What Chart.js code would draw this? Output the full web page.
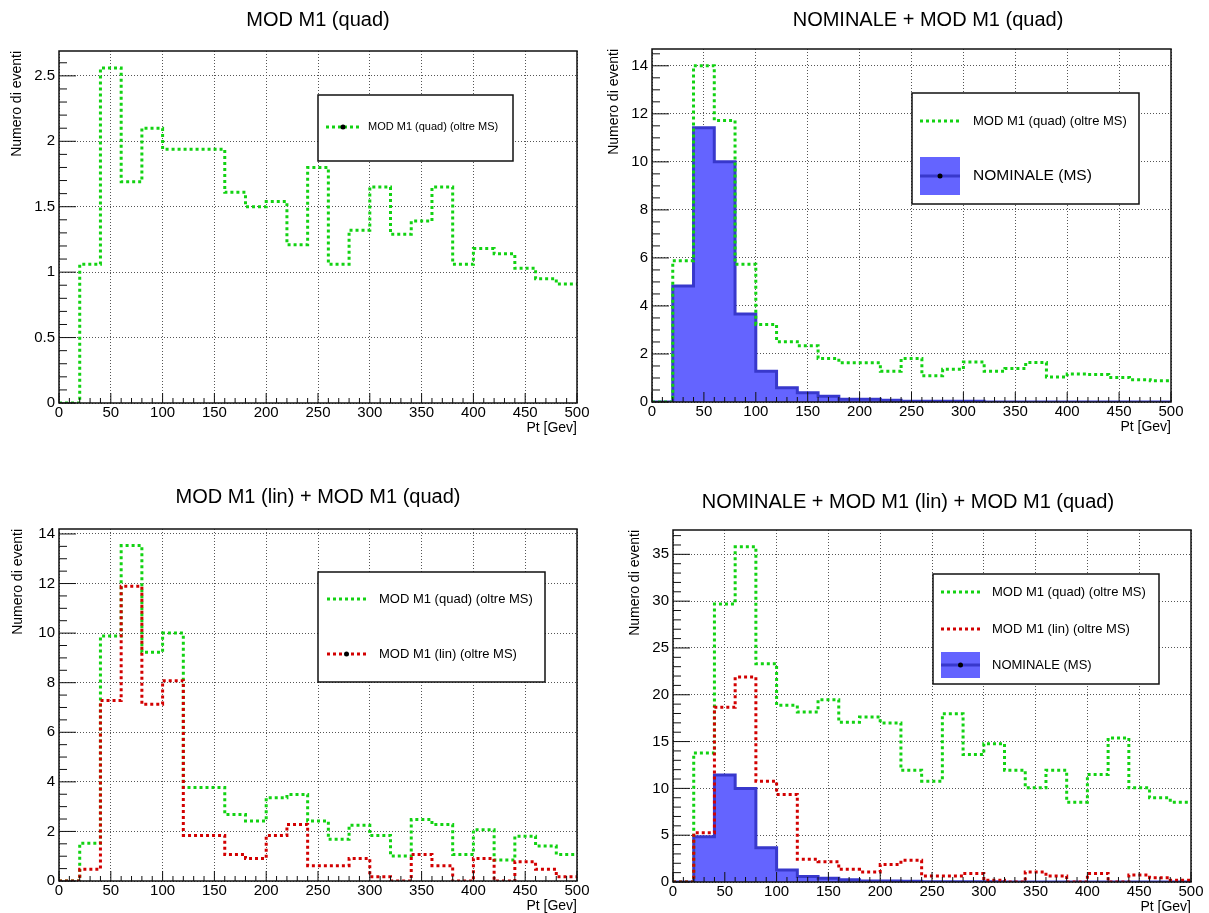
<!DOCTYPE html>
<html>
<head>
<meta charset="utf-8">
<script src="https://cdn.jsdelivr.net/npm/chart.js@4.4.1/dist/chart.umd.min.js"></script>
<style>
html, body { margin: 0; padding: 0; background: #fff; }
#wrap { position: relative; width: 1209px; height: 913px; }
#wrap canvas { position: absolute; left: 0; top: 0; }
</style>
</head>
<body>
<div id="wrap">
<canvas id="c1" width="1209" height="913"></canvas>
<canvas id="c2" width="1209" height="913"></canvas>
<canvas id="c3" width="1209" height="913"></canvas>
<canvas id="c4" width="1209" height="913"></canvas>
</div>
<script>
// bin edges (Pt, GeV) and axis ticks
const binEdges = [0, 20, 40, 60, 80, 100, 120, 140, 160, 180, 200, 220, 240, 260, 280, 300, 320, 340, 360, 380, 400, 420, 440, 460, 480, 500];
const xTicks = [0, 50, 100, 150, 200, 250, 300, 350, 400, 450, 500];
const yTicksQuad = [0, 0.5, 1, 1.5, 2, 2.5];
const yTicksMid = [0, 2, 4, 6, 8, 10, 12, 14];
const yTicksAll = [0, 5, 10, 15, 20, 25, 30, 35];

// panel 1: MOD M1 (quad)
const quadOnly = [0, 1.06, 2.56, 1.69, 2.10, 1.94, 1.94, 1.94, 1.61, 1.50, 1.54, 1.21, 1.80, 1.06, 1.32, 1.65, 1.29, 1.39, 1.65, 1.06, 1.18, 1.14, 1.03, 0.95, 0.91];
// panel 2: NOMINALE + quad
const nominale = [0, 4.83, 11.42, 10.0, 3.66, 1.28, 0.59, 0.39, 0.24, 0.11, 0.11, 0.07, 0.03, 0.03, 0.03, 0.03, 0, 0, 0, 0, 0, 0, 0, 0, 0];
const quadOverNom = [0, 5.88, 14.0, 11.72, 5.74, 3.23, 2.51, 2.34, 1.81, 1.63, 1.63, 1.28, 1.81, 1.09, 1.36, 1.67, 1.28, 1.39, 1.64, 1.04, 1.17, 1.14, 1.02, 0.93, 0.88];
// panel 3: lin + quad
const quadOverLin = [0, 1.52, 9.88, 13.53, 9.23, 10.0, 3.77, 3.77, 2.68, 2.42, 3.36, 3.49, 2.42, 1.68, 2.25, 1.84, 1.01, 2.48, 2.28, 1.07, 2.07, 0.85, 1.81, 1.41, 1.07];
const linOnly = [0, 0.47, 7.28, 11.89, 7.13, 8.08, 1.84, 1.84, 1.07, 0.91, 1.84, 2.28, 0.62, 0.62, 0.91, 0.17, 0, 1.07, 0.62, 0, 0.91, 0, 0.78, 0.47, 0.17];
// panel 4: NOMINALE + lin + quad
const quadTotal = [0, 13.79, 29.7, 35.8, 23.3, 18.87, 18.16, 19.47, 17.06, 17.63, 16.99, 11.94, 10.77, 17.98, 13.61, 14.78, 11.94, 10.06, 11.94, 8.53, 11.48, 15.39, 10.06, 8.99, 8.53];
const linOverNom = [0, 5.26, 18.66, 21.89, 10.77, 9.35, 2.42, 2.17, 1.35, 1.07, 1.88, 2.31, 0.64, 0.64, 0.92, 0.18, 0, 1.07, 0.64, 0, 0.92, 0, 0.75, 0.46, 0.18];

const GREEN = '#12d212';
const RED = '#d20000';
const BLUE_FILL = '#6464ff';
const BLUE_LINE = '#3838cc';
const FONT = "'Liberation Sans', Arial, sans-serif";

Chart.defaults.font.family = FONT;
Chart.defaults.color = '#000';

function histPoints(values) {
    const pts = values.map((v, i) => ({ x: binEdges[i], y: v }));
    pts.push({ x: binEdges[values.length], y: values[values.length - 1] });
    return pts;
}

function dottedSet(values, color, order) {
    return {
        data: histPoints(values), borderColor: color, borderWidth: 3, borderDash: [3, 3],
        stepped: 'before', pointRadius: 0, fill: false, order: order
    };
}

function filledSet(values, order) {
    return {
        data: histPoints(values), borderColor: BLUE_LINE, backgroundColor: BLUE_FILL, borderWidth: 3,
        stepped: 'before', pointRadius: 0, fill: 'origin', order: order
    };
}

function drawLegend(ctx, lg) {
    ctx.fillStyle = '#fff';
    ctx.fillRect(lg.x, lg.y, lg.w, lg.h);
    ctx.strokeStyle = '#111';
    ctx.lineWidth = 1.5;
    ctx.setLineDash([]);
    ctx.strokeRect(lg.x, lg.y, lg.w, lg.h);
    const mid = (lg.sx0 + lg.sx1) / 2;
    lg.entries.forEach(e => {
        if (e.kind === 'fill') {
            ctx.fillStyle = BLUE_FILL;
            ctx.fillRect(lg.sx0, e.y - e.bh / 2, lg.sx1 - lg.sx0, e.bh);
            ctx.strokeStyle = BLUE_LINE;
            ctx.lineWidth = 3;
            ctx.setLineDash([]);
        } else {
            ctx.strokeStyle = e.color;
            ctx.lineWidth = 3;
            ctx.setLineDash([3, 3]);
        }
        ctx.beginPath();
        ctx.moveTo(lg.sx0, e.y);
        ctx.lineTo(lg.sx1, e.y);
        ctx.stroke();
        ctx.setLineDash([]);
        if (e.dot) {
            ctx.fillStyle = '#000';
            ctx.beginPath();
            ctx.arc(mid, e.y, 2.5, 0, Math.PI * 2);
            ctx.fill();
        }
        ctx.fillStyle = '#000';
        ctx.font = e.size + 'px ' + FONT;
        ctx.textAlign = 'left';
        ctx.textBaseline = 'middle';
        ctx.fillText(e.label, lg.tx, e.y);
    });
}

function makePanel(id, p) {
    const f = p.frame;
    const padPlugin = {
        id: 'rootPad',
        afterDatasetsDraw(chart) {
            const ctx = chart.ctx, a = chart.chartArea;
            const xs = chart.scales.x, ys = chart.scales.y;
            ctx.save();
            // frame
            ctx.strokeStyle = '#111';
            ctx.lineWidth = 1.5;
            ctx.strokeRect(a.left, a.top, a.right - a.left, a.bottom - a.top);
            // inward ticks, ROOT style
            ctx.lineWidth = 1;
            ctx.beginPath();
            for (let i = 0; i <= 50; i++) {
                const px = xs.getPixelForValue(i * 10);
                ctx.moveTo(px, a.bottom);
                ctx.lineTo(px, a.bottom - (i % 5 === 0 ? 10 : 5));
            }
            const ny = Math.floor(p.yMax / p.yMinor + 1e-6);
            for (let i = 0; i <= ny; i++) {
                const py = ys.getPixelForValue(i * p.yMinor);
                ctx.moveTo(a.left, py);
                ctx.lineTo(a.left + (i % p.yDiv === 0 ? 17 : 8), py);
            }
            ctx.stroke();
            // titles
            ctx.fillStyle = '#000';
            ctx.font = '20px ' + FONT;
            ctx.textAlign = 'center';
            ctx.textBaseline = 'middle';
            ctx.fillText(p.title, p.titleX, p.titleY);
            ctx.font = '14px ' + FONT;
            ctx.textAlign = 'right';
            ctx.fillText('Pt [Gev]', a.right, a.bottom + 25);
            ctx.save();
            ctx.translate(p.yTitleX, a.top);
            ctx.rotate(-Math.PI / 2);
            ctx.textAlign = 'right';
            ctx.fillText('Numero di eventi', 0, 0);
            ctx.restore();
            drawLegend(ctx, p.legend);
            ctx.restore();
        }
    };
    new Chart(document.getElementById(id), {
        type: 'line',
        data: { datasets: p.datasets },
        options: {
            responsive: false,
            animation: false,
            events: [],
            layout: { padding: { left: f.l - 50, top: f.t, right: 1209 - f.r, bottom: 913 - f.b - 30 } },
            scales: {
                x: {
                    type: 'linear', min: 0, max: 500, bounds: 'data',
                    afterBuildTicks: s => { s.ticks = xTicks.map(v => ({ value: v })); },
                    afterFit: s => { s.height = 30; },
                    ticks: { padding: 1, font: { size: 15 }, color: '#000', autoSkip: false, maxRotation: 0, callback: v => String(v) },
                    grid: { color: '#555', drawTicks: false, lineWidth: 1 },
                    border: { display: false, dash: [1, 2] }
                },
                y: {
                    type: 'linear', min: 0, max: p.yMax, bounds: 'data',
                    afterBuildTicks: s => { s.ticks = p.yTicks.map(v => ({ value: v })); },
                    afterFit: s => { s.width = 50; },
                    ticks: { padding: 4, font: { size: 15 }, color: '#000', autoSkip: false, callback: v => String(v) },
                    grid: { color: '#555', drawTicks: false, lineWidth: 1 },
                    border: { display: false, dash: [1, 2] }
                }
            },
            plugins: { legend: { display: false }, tooltip: { enabled: false } }
        },
        plugins: [padPlugin]
    });
}

makePanel('c1', {
    frame: { l: 59, t: 51, r: 577, b: 403 },
    yMax: 2.69, yTicks: yTicksQuad, yMinor: 0.1, yDiv: 5,
    title: 'MOD M1 (quad)', titleX: 318, titleY: 20, yTitleX: 17,
    datasets: [dottedSet(quadOnly, GREEN, 0)],
    legend: {
        x: 318, y: 95, w: 195, h: 66, sx0: 326, sx1: 360, tx: 368,
        entries: [{ label: 'MOD M1 (quad) (oltre MS)', color: GREEN, dot: true, y: 127, size: 11 }]
    }
});

makePanel('c2', {
    frame: { l: 652, t: 49, r: 1171, b: 402 },
    yMax: 14.7, yTicks: yTicksMid, yMinor: 0.5, yDiv: 4,
    title: 'NOMINALE + MOD M1 (quad)', titleX: 928, titleY: 20, yTitleX: 614,
    datasets: [dottedSet(quadOverNom, GREEN, 0), filledSet(nominale, 1)],
    legend: {
        x: 912, y: 93, w: 227, h: 111, sx0: 920, sx1: 960, tx: 973,
        entries: [
            { label: 'MOD M1 (quad) (oltre MS)', color: GREEN, dot: false, y: 121, size: 13 },
            { label: 'NOMINALE (MS)', kind: 'fill', dot: true, y: 176, bh: 38, size: 15.5 }
        ]
    }
});

makePanel('c3', {
    frame: { l: 59, t: 529, r: 577, b: 881 },
    yMax: 14.2, yTicks: yTicksMid, yMinor: 0.5, yDiv: 4,
    title: 'MOD M1 (lin) + MOD M1 (quad)', titleX: 318, titleY: 497, yTitleX: 18,
    datasets: [dottedSet(quadOverLin, GREEN, 1), dottedSet(linOnly, RED, 0)],
    legend: {
        x: 318, y: 572, w: 227, h: 110, sx0: 327, sx1: 366, tx: 379,
        entries: [
            { label: 'MOD M1 (quad) (oltre MS)', color: GREEN, dot: false, y: 599, size: 13 },
            { label: 'MOD M1 (lin) (oltre MS)', color: RED, dot: true, y: 654, size: 13 }
        ]
    }
});

makePanel('c4', {
    frame: { l: 673, t: 530, r: 1191, b: 882 },
    yMax: 37.6, yTicks: yTicksAll, yMinor: 1, yDiv: 5,
    title: 'NOMINALE + MOD M1 (lin) + MOD M1 (quad)', titleX: 908, titleY: 502, yTitleX: 635,
    datasets: [dottedSet(quadTotal, GREEN, 1), dottedSet(linOverNom, RED, 0), filledSet(nominale, 2)],
    legend: {
        x: 933, y: 574, w: 226, h: 110, sx0: 941, sx1: 980, tx: 992,
        entries: [
            { label: 'MOD M1 (quad) (oltre MS)', color: GREEN, dot: false, y: 592, size: 13 },
            { label: 'MOD M1 (lin) (oltre MS)', color: RED, dot: false, y: 629, size: 13 },
            { label: 'NOMINALE (MS)', kind: 'fill', dot: true, y: 665, bh: 26, size: 13 }
        ]
    }
});
</script>
</body>
</html>
